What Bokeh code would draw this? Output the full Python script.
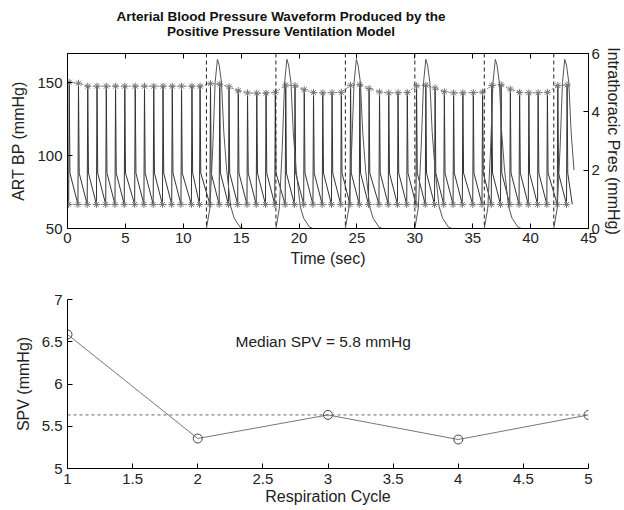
from bokeh.plotting import figure
from bokeh.models import (Range1d, LinearAxis, Label, Span, FixedTicker, Div,
                          ColumnDataSource, CustomJSTickFormatter)
from bokeh.layouts import column
from bokeh.embed import file_html
from bokeh.resources import INLINE

# ---------------- data ----------------
beat_times = [0.1, 0.9, 1.7, 2.5, 3.3, 4.1, 4.9, 5.8, 6.6, 7.4, 8.2, 9.0, 9.8, 10.7, 11.4,
              12.3, 13.1, 13.9, 14.7, 15.5, 16.3, 17.1, 17.9,
              18.8, 19.6, 20.4, 21.2, 22.0, 22.8, 23.6,
              24.4, 25.2, 26.0, 26.9, 27.7, 28.5, 29.3,
              30.1, 30.9, 31.7, 32.5, 33.3, 34.1, 35.0, 35.8,
              36.6, 37.4, 38.2, 39.0, 39.8, 40.6, 41.4,
              42.3, 43.1]
systolic = [150.3, 149.6, 147.6, 147.6, 147.6, 147.6, 147.6, 147.6, 147.6, 147.6, 147.6, 147.6, 147.6, 147.6, 147.6,
            149.3, 149.0, 147.2, 144.5, 143.0, 142.8, 142.9, 143.4,
            148.3, 148.0, 145.2, 143.2, 143.0, 143.1, 143.4,
            148.2, 148.6, 146.0, 143.6, 143.0, 143.1, 143.3,
            147.8, 148.3, 146.4, 143.8, 143.0, 143.0, 143.2, 143.5,
            148.1, 148.6, 145.6, 143.3, 143.0, 143.1, 143.4,
            148.0, 148.4]
diastolic = 66.5
notch = 88.0
last_beat_end = 43.6

cycle_starts = [12, 18, 24, 30, 36, 42]
pres_dt = [0.0, 0.3, 0.55, 0.75, 0.95, 1.1, 1.3, 1.5, 1.75, 2.1, 2.4, 2.9, 3.2]
pres_val = [0.0, 0.7, 2.8, 5.0, 5.8, 5.6, 5.0, 3.3, 2.0, 0.75, 0.35, 0.05, 0.0]
pres_end = 44.0

time_ticks = [0, 5, 10, 15, 20, 25, 30, 35, 40, 45]
abp_ticks = [50, 100, 150]
pres_ticks = [0, 2, 4, 6]

cycles = [1, 2, 3, 4, 5]
spv = [6.586, 5.355, 5.634, 5.343, 5.634]
median_spv_line = 5.634
cycle_ticks = [1, 1.5, 2, 2.5, 3, 3.5, 4, 4.5, 5]
spv_ticks = [5, 5.5, 6, 6.5, 7]

title_lines = ["Arterial Blood Pressure Waveform Produced by the",
               "Positive Pressure Ventilation Model"]

FONT = "Liberation Sans"

# ---------------- build waveform polyline ----------------
wx, wy = [], []
for i, t0 in enumerate(beat_times):
    wx += [t0, t0 + 0.05, t0 + 0.11]
    wy += [diastolic, systolic[i], notch]
    if i + 1 == len(beat_times):
        wx.append(last_beat_end)
        wy.append(diastolic)
peak_x = [t + 0.05 for t in beat_times]
dia_y = [diastolic] * len(beat_times)

px, py = [], []
for T in cycle_starts:
    for dt, v in zip(pres_dt, pres_val):
        if T + dt <= pres_end:
            px.append(T + dt)
            py.append(v)


def style_axis(ax):
    ax.major_label_text_font = FONT
    ax.major_label_text_font_size = "15px"
    ax.major_label_text_color = "#222222"
    ax.axis_label_text_font = FONT
    ax.axis_label_text_font_size = "16px"
    ax.axis_label_text_font_style = "normal"
    ax.axis_label_text_color = "#222222"
    ax.major_tick_in = 5
    ax.major_tick_out = 0
    ax.minor_tick_line_color = None
    ax.axis_line_color = "black"
    ax.major_tick_line_color = "black"
    ax.major_label_standoff = 4


# ---------------- title ----------------
title_div = Div(
    text='<div style="box-sizing:border-box;width:624px;padding-right:62px;padding-top:9px;'
         'text-align:center;font-family:\'Liberation Sans\';font-size:13.5px;font-weight:bold;'
         'line-height:15px;color:#111111;">' + "<br>".join(title_lines) + "</div>",
    width=624, height=40, margin=0)

# ---------------- top panel ----------------
p1 = figure(width=624, height=240, x_range=Range1d(0, 45), y_range=Range1d(50, 170),
            output_backend="svg", toolbar_location=None,
            min_border_left=67, min_border_right=32, min_border_top=13, min_border_bottom=52)
p1.extra_y_ranges = {"pres": Range1d(0, 6)}
p1.grid.visible = False
p1.outline_line_color = "black"
p1.background_fill_color = "white"
p1.border_fill_color = "white"

p1.xaxis.ticker = FixedTicker(ticks=time_ticks)
p1.yaxis.ticker = FixedTicker(ticks=abp_ticks)
p1.xaxis.axis_label = "Time (sec)"
p1.yaxis.axis_label = "ART BP (mmHg)"
for ax in p1.xaxis + p1.yaxis:
    style_axis(ax)
p1.xaxis.axis_label_standoff = 4
p1.yaxis.major_label_standoff = 5
p1.yaxis.axis_label_standoff = 7

top_ax = LinearAxis(ticker=FixedTicker(ticks=time_ticks),
                    formatter=CustomJSTickFormatter(code="return '';"))
style_axis(top_ax)
top_ax.major_label_standoff = 0
p1.add_layout(top_ax, "above")

right_ax = LinearAxis(y_range_name="pres", ticker=FixedTicker(ticks=pres_ticks),
                      axis_label="Intrathoracic Pres (mmHg)")
style_axis(right_ax)
right_ax.major_label_standoff = 3
right_ax.axis_label_standoff = 2
p1.add_layout(right_ax, "right")

for T in cycle_starts:
    p1.add_layout(Span(location=T, dimension="height", line_color="#222222",
                       line_dash="4 3", line_width=1))

p1.line(wx, wy, line_color="#333333", line_width=1)
p1.line(peak_x, systolic, line_color="#777777", line_dash="2 2", line_width=1)
p1.line(beat_times, dia_y, line_color="#777777", line_dash="2 2", line_width=1)
p1.scatter(peak_x, systolic, marker="asterisk", size=7, line_color="#777777")
p1.scatter(beat_times, dia_y, marker="asterisk", size=7, line_color="#777777")
p1.line(px, py, y_range_name="pres", line_color="#555555", line_width=1)

# ---------------- bottom panel ----------------
p2 = figure(width=624, height=230, x_range=Range1d(1, 5), y_range=Range1d(5, 7),
            output_backend="svg", toolbar_location=None,
            min_border_left=67, min_border_right=32, min_border_top=19, min_border_bottom=42)
p2.grid.visible = False
p2.outline_line_color = None
p2.background_fill_color = "white"
p2.border_fill_color = "white"
p2.xaxis.ticker = FixedTicker(ticks=cycle_ticks)
p2.yaxis.ticker = FixedTicker(ticks=spv_ticks)
p2.xaxis.formatter = CustomJSTickFormatter(code="return String(tick);")
p2.yaxis.formatter = CustomJSTickFormatter(code="return String(tick);")
p2.xaxis.axis_label = "Respiration Cycle"
p2.yaxis.axis_label = "SPV (mmHg)"
for ax in p2.xaxis + p2.yaxis:
    style_axis(ax)
p2.xaxis.major_label_standoff = 5
p2.xaxis.axis_label_standoff = 1
p2.yaxis.major_label_standoff = 5
p2.yaxis.axis_label_standoff = 7

p2.add_layout(Span(location=median_spv_line, dimension="width", line_color="#666666",
                   line_dash="3 3", line_width=1))
src = ColumnDataSource(dict(x=cycles, y=spv))
p2.line("x", "y", source=src, line_color="#777777", line_width=1)
p2.scatter("x", "y", source=src, marker="circle", size=9, fill_color=None,
           line_color="#444444", line_width=1)
p2.add_layout(Label(x=2.29, y=6.5, text="Median SPV = 5.8 mmHg", text_align="left",
                    text_baseline="middle", text_font=FONT, text_font_size="15.5px",
                    text_color="#222222"))

layout = column(title_div, p1, p2, spacing=0)
open("out.html", "w").write(file_html(layout, INLINE))
